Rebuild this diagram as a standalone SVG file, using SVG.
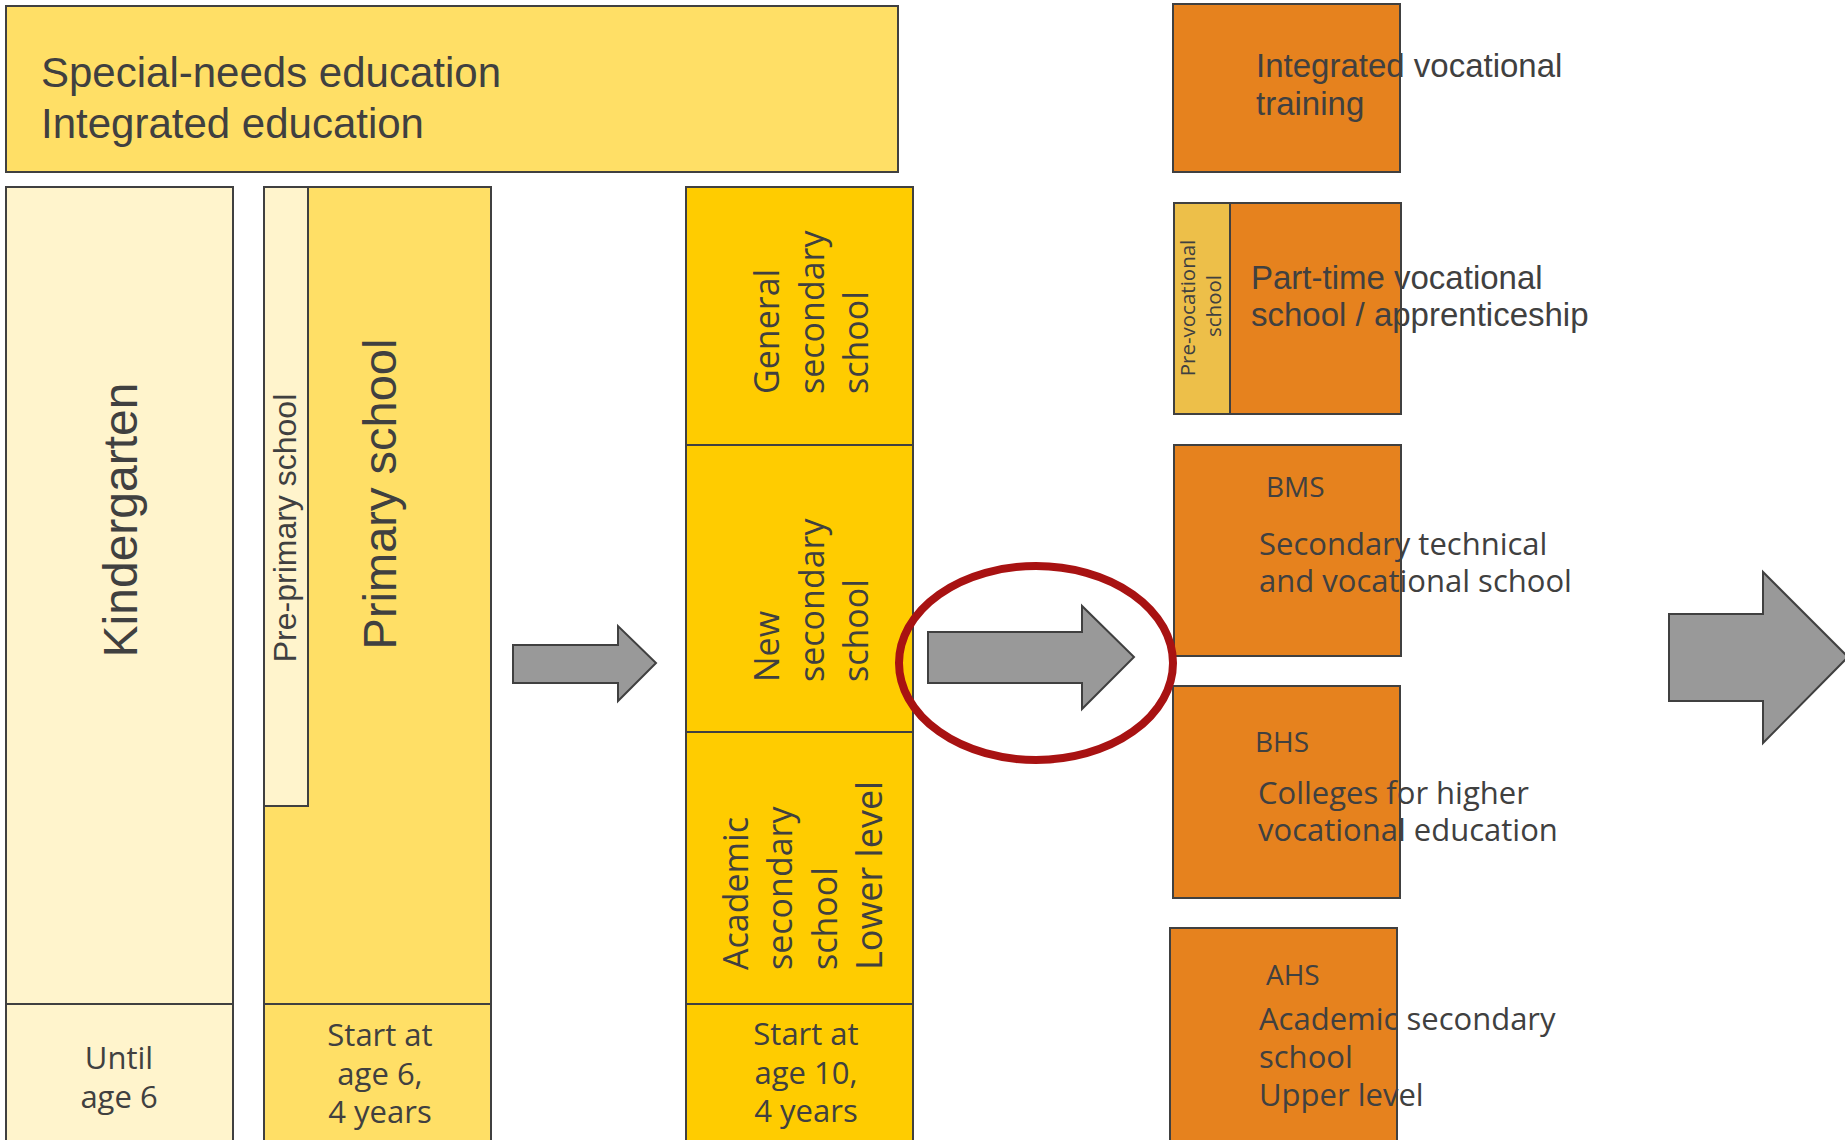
<svg xmlns="http://www.w3.org/2000/svg" width="1845" height="1140" viewBox="0 0 1845 1140">
<style>
.box{stroke:#404040;stroke-width:2}
.ln{stroke:#404040;stroke-width:2;fill:none}
.cond{font-family:"Liberation Sans",Arial,sans-serif;fill:#404040}
.wide{font-family:"Open Sans","DejaVu Sans",sans-serif;fill:#404040}
.arrow{fill:#999999;stroke:#404040;stroke-width:2;stroke-linejoin:miter}
</style>
<rect width="1845" height="1140" fill="#ffffff"/>

<g id="special-needs">
<rect class="box" x="6" y="6" width="892" height="166" fill="#FFDF66"/>
<text class="cond" x="41" y="87" font-size="42">Special-needs education</text>
<text class="cond" x="41" y="138" font-size="42">Integrated education</text>
</g>

<g id="kindergarten">
<rect class="box" x="6" y="187" width="227" height="960" fill="#FFF4CC"/>
<line class="ln" x1="6" y1="1004" x2="233" y2="1004"/>
<text class="cond" font-size="48" text-anchor="middle" transform="translate(137,520) rotate(-90)">Kindergarten</text>
<text class="wide" font-size="31" text-anchor="middle" x="119" y="1069">Until</text>
<text class="wide" font-size="31" text-anchor="middle" x="119" y="1108">age 6</text>
</g>

<g id="primary">
<rect class="box" x="264" y="187" width="227" height="960" fill="#FFDF66"/>
<line class="ln" x1="264" y1="1004" x2="491" y2="1004"/>
<text class="cond" font-size="47" text-anchor="middle" transform="translate(396,494) rotate(-90)">Primary school</text>
<text class="wide" font-size="31" text-anchor="middle" x="380" y="1046">Start at</text>
<text class="wide" font-size="31" text-anchor="middle" x="380" y="1085">age 6,</text>
<text class="wide" font-size="31" text-anchor="middle" x="380" y="1123">4 years</text>
</g>

<g id="pre-primary">
<rect class="box" x="264" y="187" width="44" height="619" fill="#FFF4CC"/>
<text class="cond" font-size="32" text-anchor="middle" transform="translate(296,528) rotate(-90)">Pre-primary school</text>
</g>

<g id="secondary">
<rect class="box" x="686" y="187" width="227" height="960" fill="#FFCC00"/>
<line class="ln" x1="686" y1="445" x2="913" y2="445"/>
<line class="ln" x1="686" y1="732" x2="913" y2="732"/>
<line class="ln" x1="686" y1="1004" x2="913" y2="1004"/>
<g class="wide" font-size="34">
<text transform="translate(779,394) rotate(-90)">General</text>
<text transform="translate(824,394) rotate(-90)">secondary</text>
<text transform="translate(868,394) rotate(-90)">school</text>
<text transform="translate(779,682) rotate(-90)">New</text>
<text transform="translate(824,682) rotate(-90)">secondary</text>
<text transform="translate(868,682) rotate(-90)">school</text>
<text transform="translate(748,970) rotate(-90)">Academic</text>
<text transform="translate(792,970) rotate(-90)">secondary</text>
<text transform="translate(837,970) rotate(-90)">school</text>
<text transform="translate(882,970) rotate(-90)" font-size="36">Lower level</text>
</g>
<text class="wide" font-size="31" text-anchor="middle" x="806" y="1045">Start at</text>
<text class="wide" font-size="31" text-anchor="middle" x="806" y="1084">age 10,</text>
<text class="wide" font-size="31" text-anchor="middle" x="806" y="1122">4 years</text>
</g>

<g id="integrated-vocational">
<rect class="box" x="1173" y="4" width="227" height="168" fill="#E6821E"/>
<text class="cond" font-size="33" x="1256" y="77">Integrated vocational</text>
<text class="cond" font-size="33" x="1256" y="115">training</text>
</g>

<g id="part-time">
<rect class="box" x="1174" y="203" width="227" height="211" fill="#E6821E"/>
<rect class="box" x="1174" y="203" width="56" height="211" fill="#EDBF49"/>
<text class="wide" font-size="20.5" text-anchor="middle" transform="translate(1195,308) rotate(-90)">Pre-vocational</text>
<text class="wide" font-size="20.5" text-anchor="middle" transform="translate(1221,306) rotate(-90)">school</text>
<text class="cond" font-size="33" x="1251" y="289">Part-time vocational</text>
<text class="cond" font-size="33" x="1251" y="326">school / apprenticeship</text>
</g>

<g id="bms">
<rect class="box" x="1174" y="445" width="227" height="211" fill="#E6821E"/>
<text class="wide" font-size="28" x="1266" y="497">BMS</text>
<text class="wide" font-size="31" x="1259" y="555">Secondary technical</text>
<text class="wide" font-size="31" x="1259" y="592">and vocational school</text>
</g>

<g id="bhs">
<rect class="box" x="1173" y="686" width="227" height="212" fill="#E6821E"/>
<text class="wide" font-size="28" x="1255" y="752">BHS</text>
<text class="wide" font-size="31" x="1258" y="804">Colleges for higher</text>
<text class="wide" font-size="31" x="1258" y="841">vocational education</text>
</g>

<g id="ahs">
<rect class="box" x="1170" y="928" width="227" height="220" fill="#E6821E"/>
<text class="wide" font-size="28" x="1266" y="985">AHS</text>
<text class="wide" font-size="31" x="1259" y="1030">Academic secondary</text>
<text class="wide" font-size="31" x="1259" y="1068">school</text>
<text class="wide" font-size="31" x="1259" y="1106">Upper level</text>
</g>

<g id="connectors">
<polygon class="arrow" points="513,645 618,645 618,626 656,663 618,701 618,683 513,683"/>
<polygon class="arrow" points="928,632 1082,632 1082,606 1134,657 1082,709 1082,683 928,683"/>
<polygon class="arrow" points="1669,614 1763,614 1763,572 1848,657 1763,743 1763,701 1669,701"/>
</g>

<g id="highlight">
<ellipse cx="1036" cy="663" rx="137" ry="97" fill="none" stroke="#A81212" stroke-width="8"/>
</g>
</svg>
